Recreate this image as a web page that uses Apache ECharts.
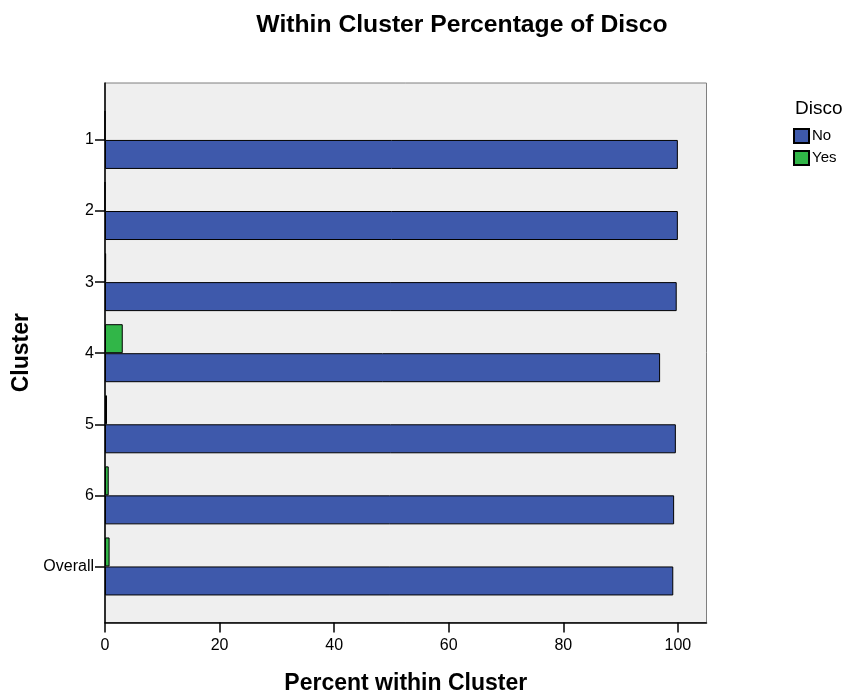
<!DOCTYPE html>
<html><head><meta charset="utf-8">
<script src="https://cdn.jsdelivr.net/npm/echarts@6/dist/echarts.min.js"></script>
<style>html,body{margin:0;padding:0;background:#fff}#c{width:846px;height:693px}</style>
</head><body><div id="c"></div>
<script>
var categories = ['1','2','3','4','5','6','Overall'];
var noValues = [100, 100, 99.8, 96.9, 99.65, 99.35, 99.2];
var yesValues = [0, 0, 0.2, 3.1, 0.35, 0.65, 0.8];
var xTicks = [0, 20, 40, 60, 80, 100];
var FONT = '"Liberation Sans", Arial, sans-serif';
var chart = echarts.init(document.getElementById('c'));
chart.setOption({
  backgroundColor: '#fff',
  animation: false,
  textStyle: {fontFamily: FONT},
  title: [
    {text: 'Within Cluster Percentage of Disco', left: 457, textAlign: 'center', top: 8,
     textStyle: {fontFamily: FONT, fontSize: 24.7, fontWeight: 'bold', color: '#000'}},
    {text: 'Disco', left: 790, top: 94,
     textStyle: {fontFamily: FONT, fontSize: 19, fontWeight: 'normal', color: '#000'}}
  ],
  legend: {
    data: ['No', 'Yes'], orient: 'vertical', left: 788, top: 123,
    itemWidth: 15, itemHeight: 14, itemGap: 6, icon: 'rect',
    textStyle: {fontFamily: FONT, fontSize: 15, color: '#000', padding: [0,0,0,-2]}
  },
  grid: [
    {left: 105, right: 139.5, top: 83, bottom: 70.5, show: true, backgroundColor: '#efefef',
     borderColor: '#7f7f7f', borderWidth: 1, containLabel: false, outerBoundsMode: 'none'},
    {left: 105, right: 139.5, top: 104.4, bottom: 91, containLabel: false, outerBoundsMode: 'none'}
  ],
  xAxis: [
    {gridIndex: 0, type: 'value', min: 0, max: 105, interval: 20,
     axisLine: {show: true, lineStyle: {color: '#000', width: 1.5}},
     axisTick: {show: true, length: 10, customValues: xTicks, lineStyle: {color: '#000', width: 1.5}},
     axisLabel: {fontSize: 16, color: '#000', margin: 15, fontFamily: FONT, customValues: xTicks},
     splitLine: {show: false},
     name: 'Percent within Cluster', nameLocation: 'middle', nameGap: 50,
     nameTextStyle: {fontFamily: FONT, fontSize: 23, fontWeight: 'bold', color: '#000'}},
    {gridIndex: 1, type: 'value', min: 0, max: 105, show: false}
  ],
  yAxis: [
    {gridIndex: 0, type: 'value', min: 0, max: 1,
     axisLine: {show: true, lineStyle: {color: '#000', width: 1.5}},
     axisTick: {show: false}, axisLabel: {show: false}, splitLine: {show: false},
     name: 'Cluster', nameLocation: 'middle', nameRotate: 90, nameGap: 72,
     nameTextStyle: {fontFamily: FONT, fontSize: 23, fontWeight: 'bold', color: '#000'}},
    {gridIndex: 1, type: 'category', data: categories, inverse: true,
     axisLine: {show: false},
     axisTick: {show: true, alignWithLabel: true, length: 10, lineStyle: {color: '#000', width: 1.5}},
     axisLabel: {fontSize: 16, color: '#000', margin: 11, fontFamily: FONT, padding: [3,0,0,0]},
     splitLine: {show: false}}
  ],
  series: [
    {name: 'Yes', type: 'bar', xAxisIndex: 1, yAxisIndex: 1, data: yesValues,
     barWidth: 29, barGap: '0%',
     itemStyle: {color: '#31b648', borderColor: '#000', borderWidth: 1}},
    {name: 'No', type: 'bar', xAxisIndex: 1, yAxisIndex: 1, data: noValues,
     barWidth: 29, barGap: '0%',
     itemStyle: {color: '#3e59ab', borderColor: '#000', borderWidth: 1}}
  ]
});
</script></body></html>
